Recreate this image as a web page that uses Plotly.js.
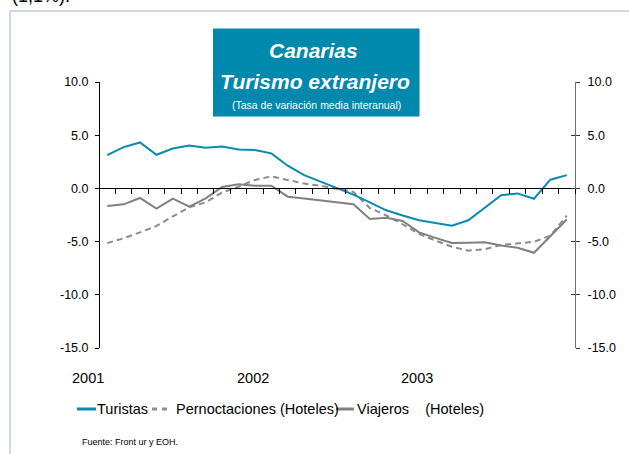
<!DOCTYPE html>
<html>
<head>
<meta charset="utf-8">
<script src="https://cdn.plot.ly/plotly-3.0.1.min.js"></script>
<style>
  html, body { margin: 0; padding: 0; background: #fff; }
  #chart { width: 629px; height: 454px; }
</style>
</head>
<body>
<div id="chart"></div>
<script>
// ---- Data ----
const months = ['ene-01','feb-01','mar-01','abr-01','may-01','jun-01','jul-01','ago-01','sep-01','oct-01','nov-01','dic-01',
                'ene-02','feb-02','mar-02','abr-02','may-02','jun-02','jul-02','ago-02','sep-02','oct-02','nov-02','dic-02',
                'ene-03','feb-03','mar-03','abr-03','may-03'];
const turistas = [3.13,3.88,4.32,3.16,3.75,4.03,3.82,3.94,3.66,3.6,3.29,2.13,1.25,0.63,0.03,-0.59,-1.31,-2.06,-2.55,-3.0,-3.25,-3.5,-3.0,-1.81,-0.65,-0.47,-0.97,0.82,1.25];
const pernoctaciones = [-5.14,-4.69,-4.13,-3.53,-2.63,-1.78,-1.31,-0.38,0.16,0.79,1.13,0.8,0.45,0.25,-0.06,-0.33,-1.85,-2.53,-3.37,-4.28,-4.9,-5.48,-5.85,-5.72,-5.32,-5.16,-5.02,-4.44,-2.56];
const viajeros = [-1.65,-1.5,-0.9,-1.9,-0.97,-1.72,-0.94,0.14,0.4,0.25,0.25,-0.78,-0.96,-1.14,-1.32,-1.48,-2.88,-2.75,-3.06,-4.13,-4.65,-5.12,-5.1,-5.06,-5.37,-5.58,-6.05,-4.52,-2.92];
const seriesNames = ['Turistas', 'Pernoctaciones (Hoteles)', 'Viajeros\u00a0\u00a0\u00a0\u00a0(Hoteles)'];
const yearLabels = ['2001', '2002', '2003'];
const yTickVals = [-15, -10, -5, 0, 5, 10];
const yTickText = ['-15.0', '-10.0', '-5.0', '0.0', '5.0', '10.0'];
const titleLines = ['Canarias', 'Turismo extranjero', '(Tasa de variación media interanual)'];
const sourceText = 'Fuente: Front ur y EOH.';
const cutText = '(1,1%).';

// ---- Styles ----
const FONT = 'Liberation Sans, Arial, Helvetica, sans-serif';
const TEAL = '#0a8ab0';
const BOX = '#0088ad';
const GRAY = '#808080';
const DGRAY = '#8c8c8c';
const colors = [TEAL, DGRAY, GRAY];
const dashes = ['solid', '6px,4px', 'solid'];

// plot area in pixels (for converting layout positions)
const L = 99, R = 575, T = 82, B = 348;
const px = v => (v - L) / (R - L);
const py = v => (B - v) / (B - T);

const traces = [
  {x: months, y: pernoctaciones, name: seriesNames[1], type: 'scatter', mode: 'lines',
   line: {color: colors[1], width: 2, dash: dashes[1]}},
  {x: months, y: viajeros, name: seriesNames[2], type: 'scatter', mode: 'lines',
   line: {color: colors[2], width: 2, dash: dashes[2]}},
  {x: months, y: turistas, name: seriesNames[0], type: 'scatter', mode: 'lines',
   line: {color: colors[0], width: 2, dash: dashes[0]}}
];

const shapes = [
  // frame of the figure
  {type: 'line', xref: 'paper', yref: 'paper', x0: px(10), x1: px(10), y0: py(11), y1: py(470),
   line: {color: '#a3b3c9', width: 1}},
  {type: 'line', xref: 'paper', yref: 'paper', x0: px(10), x1: px(640), y0: py(11), y1: py(11),
   line: {color: '#a3b3c9', width: 1}},
  // title box
  {type: 'rect', xref: 'paper', yref: 'paper', x0: px(213), x1: px(419.5), y0: py(28.5), y1: py(116.5),
   fillcolor: BOX, line: {width: 0}, layer: 'above'}
];

// legend symbols (manual legend)
const legendSym = [[77, 96], [152, 167], [336, 354]];
const legendTextX = [97, 176, 357];
const LEGY = 409;
legendSym.forEach((s, i) => {
  shapes.push({type: 'line', xref: 'paper', yref: 'paper', x0: px(s[0]), x1: px(s[1]), y0: py(LEGY), y1: py(LEGY),
    line: {color: colors[i], width: 3, dash: i === 1 ? '5px,5px' : 'solid'}});
});

const annotations = [];
// title texts
annotations.push({xref: 'paper', yref: 'paper', x: px(313), y: py(51), text: '<b><i>' + titleLines[0] + '</i></b>',
  showarrow: false, xanchor: 'center', yanchor: 'middle', font: {family: FONT, size: 21, color: '#fff'}});
annotations.push({xref: 'paper', yref: 'paper', x: px(315), y: py(81.5), text: '<b><i>' + titleLines[1] + '</i></b>',
  showarrow: false, xanchor: 'center', yanchor: 'middle', font: {family: FONT, size: 21, color: '#fff'}});
annotations.push({xref: 'paper', yref: 'paper', x: px(316), y: py(104.5), text: titleLines[2],
  showarrow: false, xanchor: 'center', yanchor: 'middle', font: {family: FONT, size: 10.5, color: '#fff'}});
// year labels
const yearX = [88, 253, 417];
yearLabels.forEach((t, i) => {
  annotations.push({xref: 'paper', yref: 'paper', x: px(yearX[i]), y: py(378), text: t, showarrow: false,
    xanchor: 'center', yanchor: 'middle', font: {family: FONT, size: 14.5, color: '#000'}});
});
// legend texts
seriesNames.forEach((t, i) => {
  annotations.push({xref: 'paper', yref: 'paper', x: px(legendTextX[i]), y: py(LEGY), text: t, showarrow: false,
    xanchor: 'left', yanchor: 'middle', xshift: -2, font: {family: FONT, size: 14.5, color: '#000'}});
});
// source
annotations.push({xref: 'paper', yref: 'paper', x: px(82), y: py(441.5), text: sourceText, showarrow: false,
  xanchor: 'left', yanchor: 'middle', xshift: -2, font: {family: FONT, size: 9, color: '#000'}});
// cut-off text at the top
annotations.push({xref: 'paper', yref: 'paper', x: px(12), y: py(-4), text: cutText, showarrow: false,
  xanchor: 'left', yanchor: 'middle', xshift: -2, font: {family: FONT, size: 18, color: '#000'}});

const layout = {
  width: 629, height: 454,
  margin: {l: L, r: 629 - R, t: T, b: 454 - B, pad: 0},
  paper_bgcolor: '#fff', plot_bgcolor: '#fff',
  showlegend: false,
  font: {family: FONT, size: 12.5, color: '#000'},
  xaxis: {
    type: 'category', range: [-0.5, 28.5], anchor: 'free', position: (0 - (-15)) / 25,
    showline: true, linecolor: '#000', linewidth: 1,
    ticks: 'outside', tickson: 'boundaries', ticklen: 5, tickwidth: 1, tickcolor: '#000',
    showticklabels: false, showgrid: false, zeroline: false, fixedrange: true
  },
  yaxis: {
    range: [-15, 10], anchor: 'free', position: 0, side: 'left',
    tickmode: 'array', tickvals: yTickVals, ticktext: yTickText,
    showline: true, linecolor: '#000', linewidth: 1,
    ticks: 'outside', ticklen: 4, tickcolor: '#000', ticklabelstandoff: 4,
    showgrid: false, zeroline: false, fixedrange: true,
    tickfont: {family: FONT, size: 12.5, color: '#000'}
  },
  yaxis2: {
    range: [-15, 10], overlaying: 'y', anchor: 'free', position: 1, side: 'right',
    tickmode: 'array', tickvals: yTickVals, ticktext: yTickText,
    showline: true, linecolor: '#6e6e6e', linewidth: 1,
    ticks: 'outside', ticklen: 4, tickcolor: '#333', ticklabelstandoff: 5,
    showgrid: false, zeroline: false, fixedrange: true,
    tickfont: {family: FONT, size: 12.5, color: '#000'}
  },
  yaxis3: {
    range: [-15, 10], overlaying: 'y', anchor: 'free', position: 1, side: 'right',
    tickmode: 'array', tickvals: yTickVals, showticklabels: false,
    showline: false, ticks: 'inside', ticklen: 4, tickcolor: '#333',
    showgrid: false, zeroline: false, fixedrange: true
  },
  shapes: shapes,
  annotations: annotations
};

// attach a dummy invisible trace to yaxis2/yaxis3 so that they render
traces.push({x: [months[0]], y: [null], yaxis: 'y2', type: 'scatter', mode: 'lines', hoverinfo: 'skip', showlegend: false});
traces.push({x: [months[0]], y: [null], yaxis: 'y3', type: 'scatter', mode: 'lines', hoverinfo: 'skip', showlegend: false});

Plotly.newPlot('chart', traces, layout, {displayModeBar: false, staticPlot: true});
</script>
</body>
</html>
